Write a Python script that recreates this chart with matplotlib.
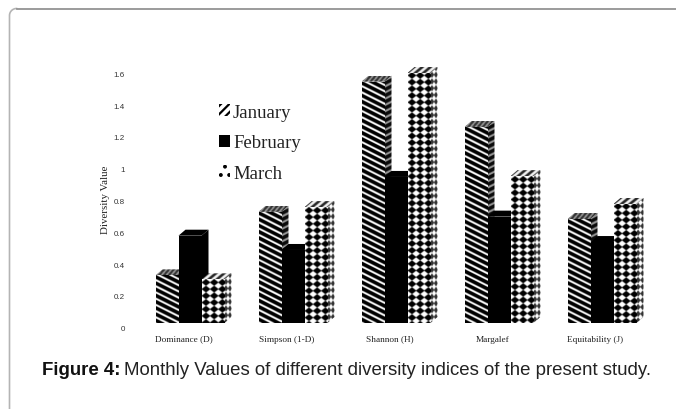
import numpy as np
import matplotlib
matplotlib.use("Agg")
import matplotlib.pyplot as plt
from matplotlib.patches import Patch, Polygon
from matplotlib.transforms import ScaledTranslation

categories = ["Dominance (D)", "Simpson (1-D)", "Shannon (H)", "Margalef", "Equitability (J)"]
january = [0.30, 0.70, 1.52, 1.235, 0.655]
february = [0.55, 0.46, 0.92, 0.67, 0.51]
march = [0.275, 0.73, 1.575, 0.925, 0.75]
months = ["January", "February", "March"]
ytick_values = [0, 0.2, 0.4, 0.6, 0.8, 1, 1.2, 1.4, 1.6]
ytick_labels = ["0", "0.2", "0.4", "0.6", "0.8", "1", "1.2", "1.4", "1.6"]

W, H = 676, 410
PXX, PXY = 103.0, 158.75
DX, DY = 7.0, 6.0
BAR_PX = 23.0
SERIF = "Liberation Serif"
SANS = "Liberation Sans"

fig = plt.figure(figsize=(W / 100, H / 100), dpi=100, facecolor="white")
L, R, T, B = 130, 665, 55, 324
ax = fig.add_axes([L / W, 1 - B / H, (R - L) / W, (B - T) / H])
xlim = ((L - 190) / PXX, (R - 190) / PXX)
ylim = (0, (B - T) / PXY)


def smooth(v):
    return np.clip(v, 0, 1)


def tex_jan_front(x, y, h):
    return smooth(((y - 0.5 * x) % 6.2 - 3.6) * 1.2)


def tex_jan_side(x, y, h):
    return 0.05 + 0.55 * smooth(((y + 0.5 * x) % 6.2 - 3.4) * 0.9)


def tex_jan_top(x, y, h):
    return 0.2 + 0.38 * (np.sin(x * 1.3 + y * 1.1) > 0.2)


def diamonds(x, y, px, py, a, b):
    u = (x + px / 2) % px - px / 2
    v = (y + py / 2) % py - py / 2
    return smooth((np.abs(u) / a + np.abs(v) / b - 1) * 2.5)


def tex_mar_front(x, y, h):
    return diamonds(x - 4.0, y - 3.4, 8.2, 6.7, 3.7, 2.9)


def tex_mar_side(x, y, h):
    return 0.2 + 0.8 * diamonds(x - 1, y - 2, 4.0, 6.7, 1.8, 2.7)


def tex_mar_top(x, y, h):
    return 0.15 + 0.8 * smooth(np.sin((x + y * 1.2) * 2 * np.pi / 8.2) + 0.5)


def face(pts_px_poly, func, z):
    """The polygon is in data space; the texture is sampled per device pixel."""
    pts = np.array(pts_px_poly)
    x0, x1, y0, y1 = pts[:, 0].min(), pts[:, 0].max(), pts[:, 1].min(), pts[:, 1].max()
    nx = max(int(round((x1 - x0) * PXX)) * 2, 2)
    ny = max(int(round((y1 - y0) * PXY)) * 2, 2)
    xs = (np.arange(nx) + 0.5) / 2
    ys = (np.arange(ny) + 0.5) / 2
    gx, gy = np.meshgrid(xs, ys)
    img = func(gx, gy, ny / 2)
    poly = Polygon(pts, closed=True, facecolor="none", edgecolor="none",
                   transform=ax.transData, zorder=z)
    ax.add_patch(poly)
    im = ax.imshow(img, extent=(x0, x1, y0, y1), origin="upper", cmap="gray",
                   vmin=0, vmax=1, aspect="auto", interpolation="bilinear", zorder=z)
    im.set_clip_path(poly)


series = [
    (january, "black", tex_jan_front, tex_jan_side, tex_jan_top),
    (february, "black", None, None, None),
    (march, "white", tex_mar_front, tex_mar_side, tex_mar_top),
]
w = BAR_PX / PXX
dx, dy = DX / PXX, DY / PXY
centers = np.arange(len(categories))
for g, c in enumerate(centers):
    for s, (vals, base, tf, ts, tt) in enumerate(series):
        z = 2 + g * 10 + s * 3
        left = c + (s - 1.5) * w
        v = vals[g]
        right = left + w
        side = [(right, 0), (right + dx, dy), (right + dx, v + dy), (right, v)]
        top = [(left, v), (left + dx, v + dy), (right + dx, v + dy), (right, v)]
        ax.bar(left, v, width=w, align="edge", color=base, linewidth=0, zorder=z + 2)
        if tf is None:
            ax.add_patch(Polygon(side, closed=True, fc="black", ec="none", zorder=z))
            ax.add_patch(Polygon(top, closed=True, fc="black", ec="none", zorder=z))
        else:
            face(side, ts, z)
            face(top, tt, z + 1)
            face([(left, 0), (right, 0), (right, v), (left, v)], tf, z + 2.5)

ax.set_xlim(xlim)
ax.set_ylim(ylim)
for sp in ax.spines.values():
    sp.set_visible(False)
ax.patch.set_alpha(0)
ax.set_xticks(centers)
ax.set_xticklabels(categories, fontfamily=SERIF, fontsize=6.7, color="#222222")
ax.set_yticks(ytick_values)
ax.set_yticklabels(ytick_labels, fontfamily=SANS, fontsize=5.8, color="#333333")
ax.tick_params(axis="both", length=0)
ax.tick_params(axis="x", pad=12.7)
ax.tick_params(axis="y", pad=3.6)
yshift = ScaledTranslation(0, -4.5 / 100, fig.dpi_scale_trans)
for lab in ax.get_yticklabels():
    lab.set_transform(lab.get_transform() + yshift)
xshift = ScaledTranslation(-6.5 / 100, 0, fig.dpi_scale_trans)
for lab in ax.get_xticklabels():
    lab.set_transform(lab.get_transform() + xshift)
    lab.set_verticalalignment("baseline")
ax.set_ylabel("Diversity Value", fontfamily=SERIF, fontsize=7.8, color="#222222")
ax.yaxis.set_label_coords((110 - L) / (R - L), (B - 200) / (B - T))

plt.rcParams["hatch.linewidth"] = 1.6
handles = [
    Patch(facecolor="white", edgecolor="black", hatch="////", linewidth=0, label=months[0]),
    Patch(facecolor="black", edgecolor="black", linewidth=0, label=months[1]),
    Patch(facecolor="white", edgecolor="black", hatch="..", linewidth=0, label=months[2]),
]
leg = ax.legend(handles=handles, loc="upper left", frameon=False,
                bbox_to_anchor=((219 - L) / (R - L), (B - 105) / (B - T)),
                borderaxespad=0, borderpad=0, prop={"family": SERIF, "size": 13.5},
                labelcolor="#222222", handlelength=0.6, handleheight=0.6,
                handletextpad=0.15, labelspacing=0.72)
leg.set_zorder(200)

# page frame around the figure
frame_c_top = "#8a8a8a"
frame_c_left = "#b4b4b4"
r = 7
t = np.linspace(np.pi, np.pi / 2, 12)
fx = (9.5 + r) + r * np.cos(t)
fy = (9.5 + r) - r * np.sin(t)
fig_tr = fig.transFigure
fig.add_artist(plt.Line2D(np.r_[9.5, fx] / W, 1 - np.r_[H, fy] / H, color=frame_c_left, lw=1.2, transform=fig_tr))
fig.add_artist(plt.Line2D(np.r_[fx[-1], W] / W, 1 - np.r_[fy[-1], fy[-1]] / H, color=frame_c_top, lw=1.2, transform=fig_tr))

cap1 = fig.text(42 / W, 1 - 375 / H, "Figure 4:", fontfamily=SANS, fontweight="bold",
                fontsize=13.4, color="#111111", va="baseline", ha="left")
fig.canvas.draw()
ext = cap1.get_window_extent()
fig.text((ext.x1 + 4) / W, 1 - 375 / H, "Monthly Values of different diversity indices of the present study.",
         fontfamily=SANS, fontsize=13.4, color="#222222", va="baseline", ha="left")

fig.savefig("out.png", dpi=100, facecolor="white")
